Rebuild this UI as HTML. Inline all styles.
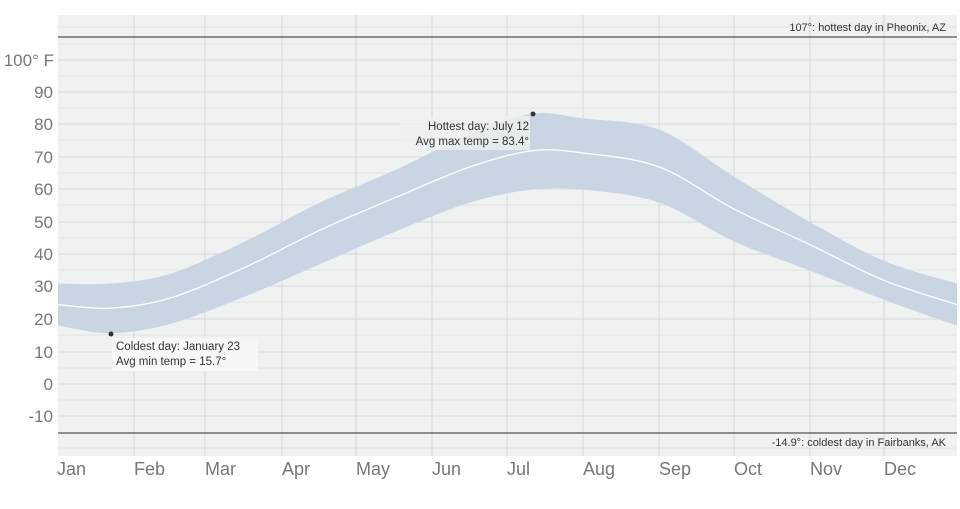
<!DOCTYPE html>
<html><head><style>
body{margin:0;background:#fff;width:960px;height:504px;overflow:hidden}
text{font-family:"Liberation Sans",sans-serif}
</style></head><body>
<svg id="s" width="960" height="504" xmlns="http://www.w3.org/2000/svg">
<rect x="58" y="15" width="899" height="441" fill="#f0f1f1"/>
<g stroke="#e2e3e4" stroke-width="1">
<line x1="58" x2="957" y1="44" y2="44"/><line x1="58" x2="957" y1="76" y2="76"/><line x1="58" x2="957" y1="108" y2="108"/><line x1="58" x2="957" y1="140" y2="140"/><line x1="58" x2="957" y1="173" y2="173"/><line x1="58" x2="957" y1="205" y2="205"/><line x1="58" x2="957" y1="238" y2="238"/><line x1="58" x2="957" y1="270" y2="270"/><line x1="58" x2="957" y1="302" y2="302"/><line x1="58" x2="957" y1="335" y2="335"/><line x1="58" x2="957" y1="368" y2="368"/><line x1="58" x2="957" y1="400" y2="400"/><line x1="58" x2="957" y1="27" y2="27"/><line x1="58" x2="957" y1="448" y2="448"/>
</g>
<g stroke="#d6d7d8" stroke-width="1">
<line x1="58" x2="957" y1="60" y2="60"/><line x1="58" x2="957" y1="92" y2="92"/><line x1="58" x2="957" y1="124" y2="124"/><line x1="58" x2="957" y1="157" y2="157"/><line x1="58" x2="957" y1="189" y2="189"/><line x1="58" x2="957" y1="222" y2="222"/><line x1="58" x2="957" y1="254" y2="254"/><line x1="58" x2="957" y1="286" y2="286"/><line x1="58" x2="957" y1="319" y2="319"/><line x1="58" x2="957" y1="352" y2="352"/><line x1="58" x2="957" y1="384" y2="384"/><line x1="58" x2="957" y1="416" y2="416"/>
<line x1="134" x2="134" y1="15" y2="456"/><line x1="205" x2="205" y1="15" y2="456"/><line x1="282" x2="282" y1="15" y2="456"/><line x1="356" x2="356" y1="15" y2="456"/><line x1="432" x2="432" y1="15" y2="456"/><line x1="507" x2="507" y1="15" y2="456"/><line x1="583" x2="583" y1="15" y2="456"/><line x1="659" x2="659" y1="15" y2="456"/><line x1="734" x2="734" y1="15" y2="456"/><line x1="810" x2="810" y1="15" y2="456"/><line x1="884" x2="884" y1="15" y2="456"/>
</g>
<path id="band" fill="#c9d5e2" d=""/>
<path id="avg" fill="none" stroke="#fff" stroke-width="1.3" d=""/>
<line x1="58" x2="957" y1="37" y2="37" stroke="#555" stroke-width="1.3"/>
<line x1="58" x2="957" y1="433" y2="433" stroke="#555" stroke-width="1.3"/>
<text x="946" y="31" font-size="11" fill="#333" text-anchor="end">107°: hottest day in Pheonix, AZ</text>
<text x="946" y="446" font-size="11" fill="#333" text-anchor="end">-14.9°: coldest day in Fairbanks, AK</text>
<rect x="112" y="338" width="146" height="33" fill="#f6f7f7"/>
<circle cx="111" cy="334" r="2.5" fill="#333"/>
<text x="116" y="350" font-size="11.5" fill="#333">Coldest day: January 23</text>
<text x="116" y="365" font-size="11.5" fill="#333">Avg min temp = 15.7°</text>
<rect x="400" y="116" width="130" height="34" fill="#eef0f1" opacity="0.8"/>
<circle cx="533" cy="114" r="2.5" fill="#333"/>
<text x="529" y="130" font-size="11.5" fill="#333" text-anchor="end">Hottest day: July 12</text>
<text x="529" y="145" font-size="11.5" fill="#333" text-anchor="end">Avg max temp = 83.4°</text>
<g font-size="17" fill="#777" text-anchor="end">
<text x="54" y="66">100° F</text><text x="53" y="98">90</text><text x="53" y="130">80</text><text x="53" y="163">70</text><text x="53" y="195">60</text><text x="53" y="228">50</text><text x="53" y="260">40</text><text x="53" y="292">30</text><text x="53" y="325">20</text><text x="53" y="358">10</text><text x="53" y="390">0</text><text x="53" y="422">-10</text>
</g>
<g font-size="18" fill="#777">
<text x="57" y="475">Jan</text><text x="134" y="475">Feb</text><text x="205" y="475">Mar</text><text x="282" y="475">Apr</text><text x="356" y="475">May</text><text x="432" y="475">Jun</text><text x="507" y="475">Jul</text><text x="583" y="475">Aug</text><text x="659" y="475">Sep</text><text x="734" y="475">Oct</text><text x="810" y="475">Nov</text><text x="884" y="475">Dec</text>
</g>
</svg>
<script>
function cr(p){let d="";for(let i=0;i<p.length-1;i++){const a=p[i-1]||p[i],b=p[i],c=p[i+1],e=p[i+2]||c;
d+=" C"+(b[0]+(c[0]-a[0])/6)+","+(b[1]+(c[1]-a[1])/6)+" "+(c[0]-(e[0]-b[0])/6)+","+(c[1]-(e[1]-b[1])/6)+" "+c[0]+","+c[1];}return d;}
const Y=v=>384-3.24*v;
const mx=[[58,31],[110,31],[170,34],[245,44],[320,56],[395,66],[470,77],[532,83.4],[583,82],[659,78.5],[734,64],[810,50],[884,38],[957,31]].map(p=>[p[0],Y(p[1])]);
const mn=[[58,18],[110,15.7],[170,18.5],[245,27],[320,37],[395,47],[470,56],[532,60],[583,60],[659,56],[734,44],[810,35],[884,26],[957,18]].map(p=>[p[0],Y(p[1])]);
const av=[[58,24.5],[110,23.4],[170,26.5],[245,36],[320,47.5],[395,57.5],[470,67],[532,72],[583,71.3],[659,67],[734,54],[810,43],[884,32],[957,24.5]].map(p=>[p[0],Y(p[1])]);
const r=mn.slice().reverse();
document.getElementById("band").setAttribute("d","M"+mx[0]+cr(mx)+" L"+r[0]+cr(r)+"Z");
document.getElementById("avg").setAttribute("d","M"+av[0]+cr(av));
</script>
</body></html>
